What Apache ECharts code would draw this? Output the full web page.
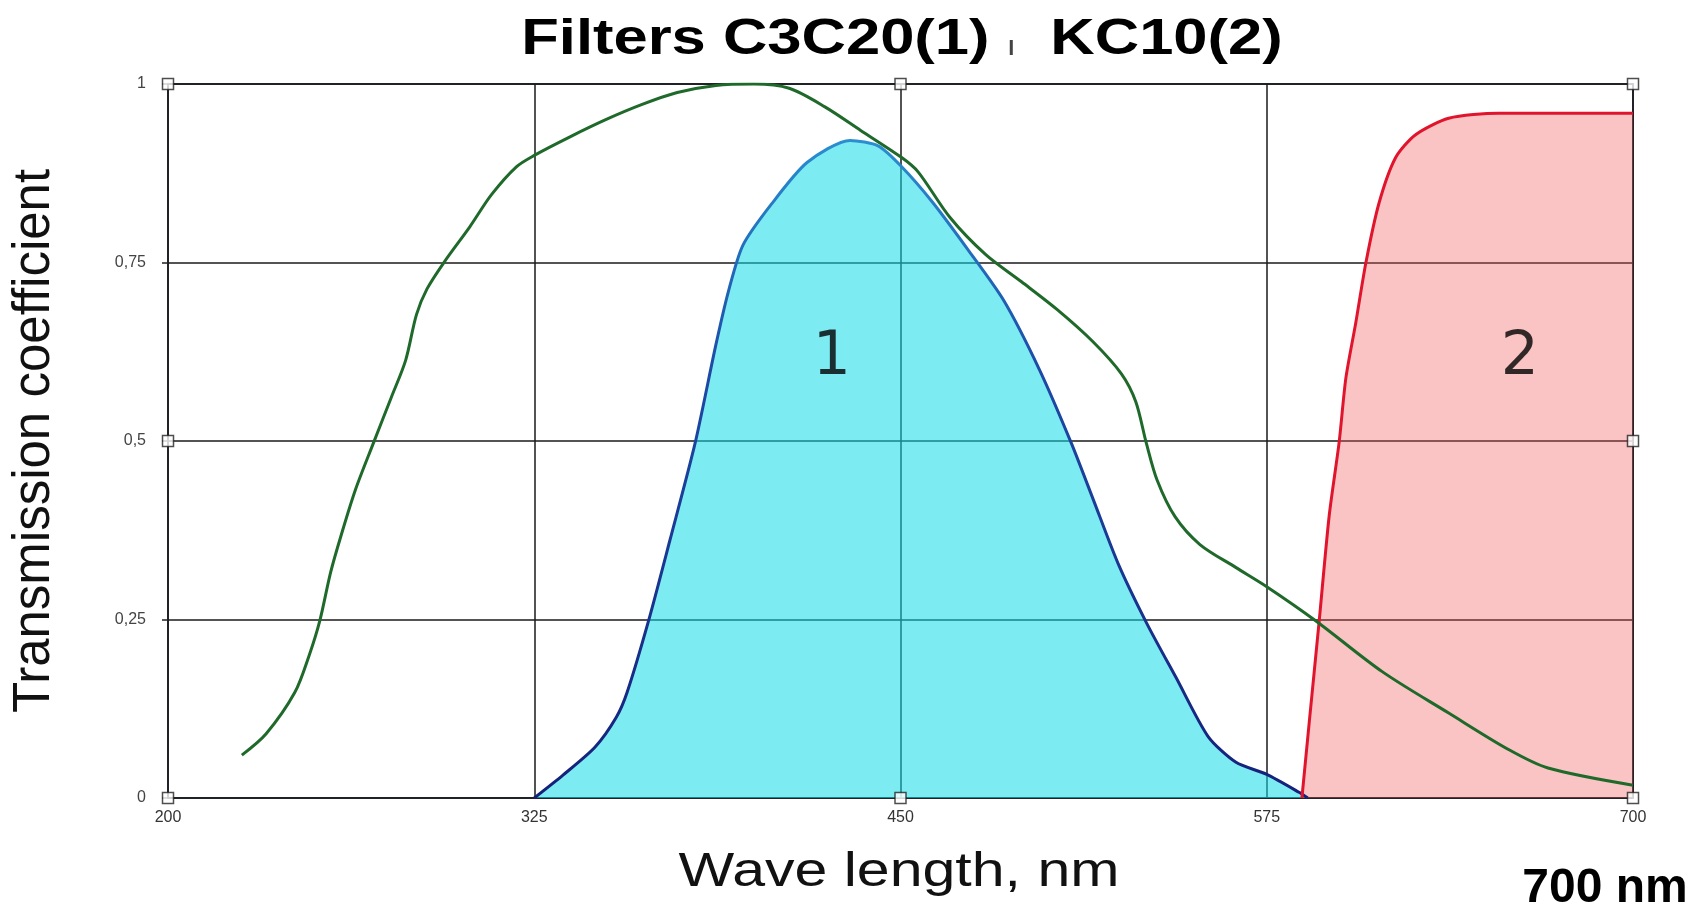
<!DOCTYPE html>
<html>
<head>
<meta charset="utf-8">
<script src="https://cdn.jsdelivr.net/npm/echarts@6/dist/echarts.min.js"></script>
<style>
  html, body { margin: 0; padding: 0; background: #fff; }
  #chart { width: 1700px; height: 908px; }
</style>
</head>
<body>
<div id="chart"></div>
<script>
/* 数据 */
var xTicks = [200, 325, 450, 575, 700];
var yTicks = [0, 0.25, 0.5, 0.75, 1];

// filter 1 (C3C20) - blue
var filter1 = [
  [325, 0], [334.8, 0.032], [345.7, 0.071], [353, 0.113], [356.7, 0.148],
  [364, 0.248], [371.3, 0.361], [379.9, 0.497], [387, 0.635], [391.3, 0.71],
  [396.2, 0.774], [406, 0.832], [418.1, 0.89], [432.8, 0.921], [442.5, 0.913],
  [450.4, 0.884], [460.8, 0.835], [473, 0.768], [485.2, 0.697], [497.4, 0.6],
  [508.3, 0.497], [515.7, 0.419], [524.2, 0.329], [534, 0.245], [544, 0.169],
  [555, 0.086], [564.5, 0.05], [575, 0.033], [586, 0.008], [589, 0]
];

// filter 2 (KC10) - red
var filter2 = [
  [587, 0], [589.5, 0.106], [592.9, 0.248], [596.3, 0.395], [599.7, 0.498],
  [602, 0.588], [605.4, 0.666], [608.8, 0.749], [613.3, 0.833], [619, 0.897],
  [625.8, 0.929], [637.1, 0.952], [654.1, 0.959], [700, 0.959]
];

// green curve
var greenCurve = [
  [225.2, 0.06], [233.5, 0.09], [243.3, 0.148], [248.2, 0.2], [251.8, 0.248],
  [255.5, 0.316], [259.1, 0.368], [264, 0.432], [270.1, 0.497], [276.2, 0.561],
  [281.1, 0.613], [284.8, 0.677], [288.4, 0.713], [294.5, 0.752], [303, 0.8],
  [310.4, 0.845], [318.9, 0.884], [325, 0.9], [337.2, 0.926], [349.4, 0.95],
  [361.6, 0.971], [373.8, 0.988], [387, 0.998], [400, 1.0], [412, 0.994],
  [424.2, 0.968], [436.4, 0.935], [450.4, 0.897], [456, 0.877], [466.9, 0.813],
  [479.1, 0.761], [491.3, 0.723], [503.5, 0.684], [515.7, 0.639], [525.4, 0.594],
  [530.3, 0.555], [533.9, 0.497], [537.6, 0.445], [543.7, 0.394], [552.2, 0.355],
  [564.4, 0.323], [575, 0.296], [591.8, 0.248], [614.4, 0.177], [637.1, 0.119],
  [657.5, 0.068], [671, 0.042], [700, 0.018]
];

// 小方块 (frame handles)
var handleX = [200, 200, 200, 450, 700, 700, 700, 450];
var handleY = [0, 0.5, 1, 1, 1, 0.5, 0, 0];

// curve numbers
var curveNames = ['1', '2'];
var curveLabelX = [426.6, 661.4];
var curveLabelY = [0.615, 0.615];

var myChart = echarts.init(document.getElementById('chart'));

var handles = [];
handleX.map(function (x, i) {
  handles.push([x, handleY[i]]);
});
var curveLabels = [];
curveNames.map(function (name, i) {
  curveLabels.push({ name: name, value: [curveLabelX[i], curveLabelY[i]] });
});

var option = {
  backgroundColor: '#fff',
  animation: false,
  grid: {
    left: 168,
    right: 67,
    top: 84,
    bottom: 110,
    show: true,
    borderColor: '#383c55',
    borderWidth: 2
  },
  graphic: [
    {
      type: 'text',
      x: 902, y: 40,
      scaleX: 1.23,
      style: {
        text: 'Filters C3C20(1) {s|ı}  KC10(2)',
        font: 'bold 50px "Liberation Sans", Arial, sans-serif',
        fill: '#000',
        align: 'center', verticalAlign: 'middle',
        textAlign: 'center', textVerticalAlign: 'middle',
        rich: {
          s: { fontSize: 28, fontWeight: 'normal', fill: '#444', color: '#444', padding: [14, 0, 0, 0] }
        }
      }
    },
    {
      type: 'text',
      x: 899, y: 873,
      scaleX: 1.23,
      style: {
        text: 'Wave length, nm',
        font: '48px "Liberation Sans", Arial, sans-serif',
        fill: '#111',
        align: 'center', verticalAlign: 'middle',
        textAlign: 'center', textVerticalAlign: 'middle'
      }
    },
    {
      type: 'text',
      x: 1605, y: 889,
      style: {
        text: '700 nm',
        font: 'bold 48px "Liberation Sans", Arial, sans-serif',
        fill: '#000',
        align: 'center', verticalAlign: 'middle',
        textAlign: 'center', textVerticalAlign: 'middle'
      }
    }
  ],
  xAxis: {
    type: 'value',
    min: 200,
    max: 700,
    interval: 125,
    axisLine: { show: false },
    axisTick: { show: false },
    axisLabel: {
      margin: 12,
      fontSize: 16,
      color: '#333',
      fontFamily: 'Liberation Sans'
    },
    splitLine: {
      show: true,
      lineStyle: { color: '#1a1a1a', width: 1.5 }
    }
  },
  yAxis: {
    type: 'value',
    min: 0,
    max: 1,
    interval: 0.25,
    name: 'Transmission coefficient',
    nameLocation: 'middle',
    nameGap: 108,
    nameTextStyle: {
      fontSize: 51,
      color: '#111',
      fontFamily: 'Liberation Sans'
    },
    axisLine: { show: false },
    axisTick: {
      show: true,
      length: 6,
      lineStyle: { color: '#222', width: 1.5 }
    },
    axisLabel: {
      margin: 22,
      fontSize: 16,
      color: '#444',
      fontFamily: 'Liberation Sans',
      formatter: function (v) {
        return String(v).replace('.', ',');
      }
    },
    splitLine: {
      show: true,
      lineStyle: { color: '#1a1a1a', width: 1.5 }
    }
  },
  series: [
    {
      name: 'C3C20',
      type: 'line',
      data: filter1,
      smooth: 0.25,
      symbol: 'none',
      lineStyle: {
        width: 3,
        color: new echarts.graphic.LinearGradient(0, 0, 0, 1, [
          { offset: 0, color: '#2a8fd0' },
          { offset: 0.35, color: '#1d4aa6' },
          { offset: 1, color: '#15207a' }
        ])
      },
      areaStyle: { color: 'rgb(19,219,231)', opacity: 0.55 },
      z: 2
    },
    {
      name: 'KC10',
      type: 'line',
      data: filter2,
      smooth: 0.25,
      symbol: 'none',
      lineStyle: { width: 3, color: '#e0142c' },
      areaStyle: { color: 'rgb(241,86,86)', opacity: 0.35 },
      z: 2
    },
    {
      name: 'green',
      type: 'line',
      data: greenCurve,
      smooth: 0.3,
      symbol: 'none',
      lineStyle: { width: 3, color: '#1f6a2b' },
      z: 3
    },
    {
      name: 'handles',
      type: 'scatter',
      data: handles,
      symbol: 'rect',
      symbolSize: 11,
      clip: false,
      itemStyle: { color: '#fff', borderColor: '#222', borderWidth: 1.5 },
      z: 5
    },
    {
      name: 'numbers',
      type: 'scatter',
      data: curveLabels,
      symbolSize: 1,
      itemStyle: { color: 'transparent' },
      label: {
        show: true,
        position: 'inside',
        formatter: '{b}',
        fontSize: 60,
        color: '#000',
        fontFamily: 'DejaVu Sans'
      },
      z: 4
    }
  ]
};

myChart.setOption(option);
</script>
</body>
</html>
